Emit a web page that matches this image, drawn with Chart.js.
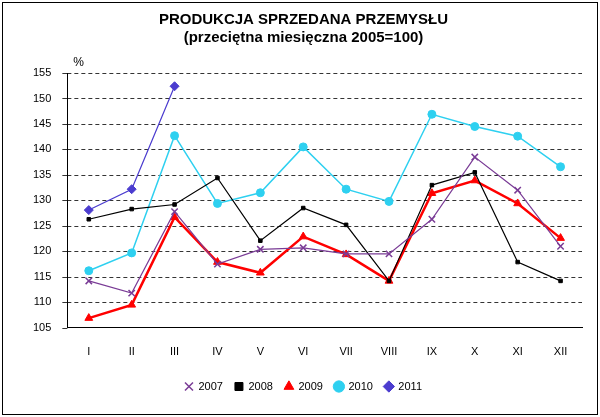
<!DOCTYPE html>
<html><head><meta charset="utf-8">
<script src="https://cdn.jsdelivr.net/npm/chart.js@4"></script>
<style>
html,body{margin:0;padding:0;background:#fff;}
#w{position:absolute;left:2px;top:2px;width:594px;height:411px;border:1px solid #000;}
</style></head><body>
<div id="w"><canvas id="c"></canvas></div>
<script>
const categories=['I','II','III','IV','V','VI','VII','VIII','IX','X','XI','XII'];
const s2007=[114.2,111.8,127.8,117.5,120.4,120.7,119.5,119.5,126.3,138.5,132.0,121.0];
const s2008=[126.3,128.3,129.2,134.4,122.1,128.5,125.2,114.2,133.0,135.5,117.9,114.2];
const s2009=[106.9,109.5,126.7,117.9,115.8,122.9,119.4,114.2,131.4,133.9,129.4,122.6];
const s2010=[116.2,119.7,142.7,129.4,131.5,140.5,132.2,129.8,146.9,144.5,142.6,136.6];
const s2011=[128.1,132.2,152.4,null,null,null,null,null,null,null,null,null];
const yTicks=[105,110,115,120,125,130,135,140,145,150,155];
Chart.defaults.font.family='"Liberation Sans", Arial, sans-serif';
Chart.defaults.color='#000';
const ds=(l,d,c,ps,r,bw)=>({label:l,data:d,borderColor:c,backgroundColor:c,pointStyle:ps,pointRadius:r,pointBorderWidth:ps==='crossRot'?1.5:1,borderWidth:bw,tension:0,spanGaps:false});
new Chart(document.getElementById('c'),{
type:'line',
data:{labels:categories,datasets:[
ds('2007',s2007,'#7a3c96','crossRot',4.5,1.2),
ds('2008',s2008,'#000000','rect',2.5,1.2),
ds('2009',s2009,'#ff0000','triangle',4.5,2.5),
ds('2010',s2010,'#2ed0f0','circle',4,1.5),
ds('2011',s2011,'#4b3ccf','rectRot',4.5,1.2)]},
options:{responsive:true,maintainAspectRatio:false,animation:false,
layout:{padding:{left:22,right:15,top:2,bottom:12}},
plugins:{
title:{display:true,text:['PRODUKCJA SPRZEDANA PRZEMYSŁU','(przeciętna miesięczna 2005=100)'],font:{size:15,weight:'bold'},lineHeight:1.25,padding:{top:6,bottom:26},color:'#000'},
legend:{position:'bottom',labels:{usePointStyle:true,boxWidth:8,boxHeight:8,padding:12,font:{size:11}}},
tooltip:{enabled:false}},
scales:{
x:{offset:true,grid:{display:false},border:{color:'#000'},ticks:{font:{size:11},padding:10}},
y:{min:105,max:155,afterBuildTicks:a=>{a.ticks=yTicks.map(v=>({value:v}));},
grid:{display:false},border:{color:'#000'},
ticks:{font:{size:11},padding:8}}}},
plugins:[{id:'dashgrid',beforeDatasetsDraw(ch){const c=ch.ctx,y=ch.scales.y,a=ch.chartArea;c.save();c.strokeStyle='#000';c.lineWidth=0.8;c.setLineDash([4,3]);
yTicks.forEach(v=>{if(v===105)return;const p=Math.round(y.getPixelForValue(v))+0.5;c.beginPath();c.moveTo(a.left,p);c.lineTo(a.right,p);c.stroke();});
c.setLineDash([]);yTicks.forEach(v=>{const p=Math.round(y.getPixelForValue(v))+0.5;c.beginPath();c.moveTo(a.left-5,p);c.lineTo(a.left,p);c.stroke();});
c.restore();},
afterDraw(ch){const c=ch.ctx,y=ch.scales.y;c.save();c.font='12px "Liberation Sans", Arial';c.fillStyle='#000';c.fillText('%',y.right+6,y.top-10);c.restore();}}]
});
</script></body></html>
